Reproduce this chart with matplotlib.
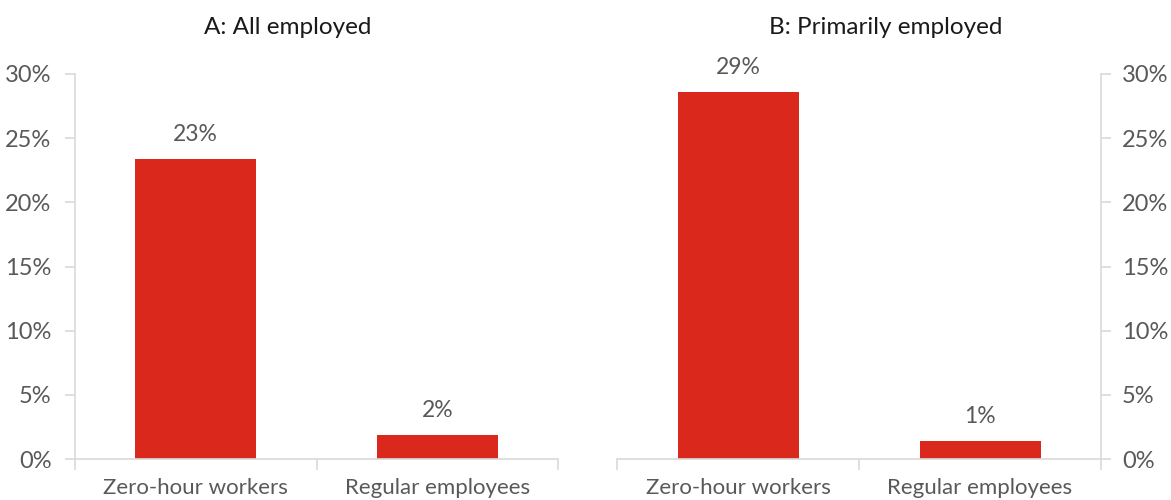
import matplotlib
matplotlib.use("Agg")
import matplotlib.pyplot as plt
from matplotlib.ticker import FuncFormatter

# share of workers, percent
categories = ["Zero-hour workers", "Regular employees"]
all_employed = [23.4, 1.9]
primarily_employed = [28.6, 1.4]
panel_titles = ["A: All employed", "B: Primarily employed"]
y_ticks = [0, 5, 10, 15, 20, 25, 30]

plt.rcParams['font.family'] = ['Lato', 'DejaVu Sans']

bar_color = '#DA291C'
text_color = '#595959'
grey = '#D9D9D9'

fig = plt.figure(figsize=(11.71, 5.0), dpi=100)
ax_a = fig.add_axes([75/1171, 1 - 459/500, 483/1171, 385/500])
ax_b = fig.add_axes([617/1171, 1 - 459/500, 484/1171, 385/500])


def style_panel(ax, values, side):
    x = range(len(categories))
    ax.bar(x, values, width=0.5, color=bar_color, zorder=2)
    for xi, v in zip(x, values):
        ax.annotate(f"{v:.0f}%", (xi, v), xytext=(0, 10), textcoords='offset points',
                    ha='center', va='bottom', fontsize=16.5, color=text_color)

    ax.set_xlim(-0.5, len(categories) - 0.5)
    ax.set_ylim(0, 30)
    ax.set_yticks(y_ticks)
    ax.yaxis.set_major_formatter(FuncFormatter(lambda v, p: f"{v:.0f}%"))

    ax.set_xticks(list(x))
    ax.set_xticklabels(categories)
    ax.set_xticks([-0.5, 0.5, 1.5], minor=True)
    ax.tick_params(axis='x', which='major', length=0, pad=13.5, labelsize=16, labelcolor=text_color)
    ax.tick_params(axis='x', which='minor', length=8, width=1.2, color=grey)

    for s in ['top', 'left', 'right']:
        ax.spines[s].set_visible(False)
    ax.spines['bottom'].set_color(grey)
    ax.spines['bottom'].set_linewidth(1.2)
    ax.spines[side].set_visible(True)
    ax.spines[side].set_color(grey)
    ax.spines[side].set_linewidth(1.2)

    if side == 'right':
        ax.yaxis.tick_right()
    ax.tick_params(axis='y', length=7, width=1.2, color=grey,
                   pad=10 if side == 'left' else 8,
                   labelsize=17, labelcolor=text_color)


style_panel(ax_a, all_employed, 'left')
style_panel(ax_b, primarily_employed, 'right')

fig.text(288/1171, 1 - 27/500, panel_titles[0], ha='center', va='center',
         fontsize=17.5, color='#1a1a1a')
fig.text(886/1171, 1 - 27/500, panel_titles[1], ha='center', va='center',
         fontsize=17.5, color='#1a1a1a')

fig.savefig("out.png", dpi=100)
